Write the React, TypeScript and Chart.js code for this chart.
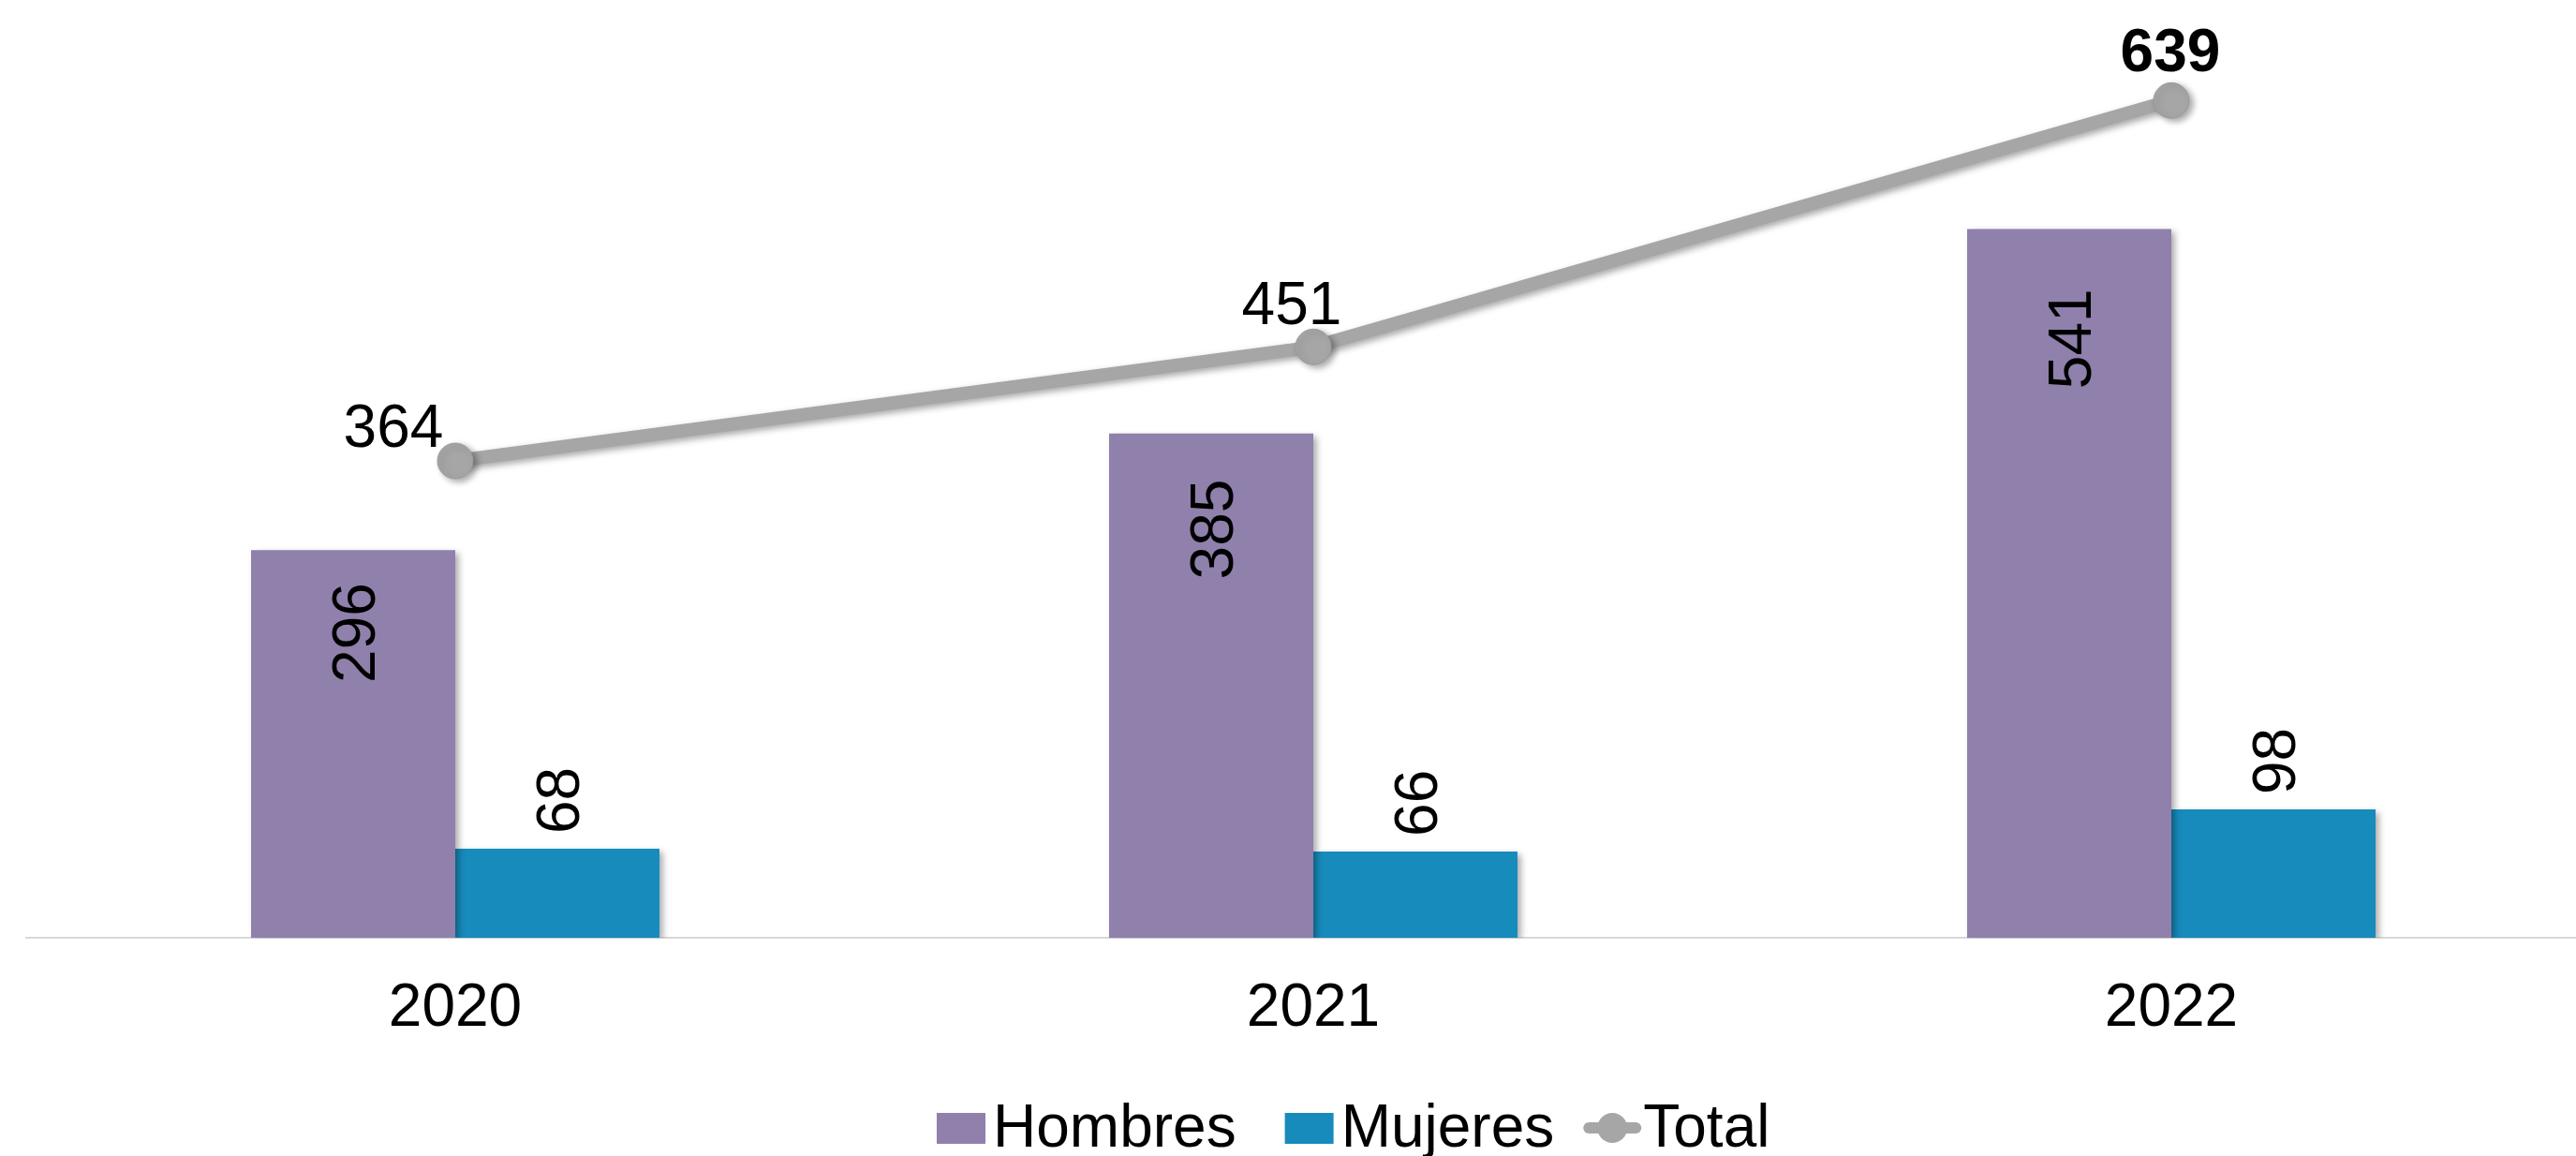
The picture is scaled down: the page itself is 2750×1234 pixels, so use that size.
import React, { useEffect, useRef } from "react";
import { Chart, registerables } from "chart.js";

Chart.register(...registerables);

// ---- data ----
const categories = ["2020", "2021", "2022"];
const seriesNames = ["Hombres", "Mujeres", "Total"];
const hombres = [296, 385, 541];
const mujeres = [68, 66, 98];
const total = [364, 451, 639];

// ---- styles ----
const COLOR_H = "#9080AC";
const COLOR_M = "#178BBC";
const COLOR_T = "#A6A6A6";
const FONT = "'Liberation Sans', Arial, Helvetica, sans-serif";
const FS = 64;
const DIGIT_MID = 0.358; // digit visual centre above baseline (em)
const hombresLabelInset = [35, 49, 64];
const mujeresLabelGap = 16;
const totalLabelShift = [
  [-66, -38],
  [-23, -47],
  [-1, -54],
];
const totalLabelBold = [false, false, true];

const shadowPlugin = {
  id: "shadowPlugin",
  beforeDatasetDraw(chart: any) {
    const ctx = chart.ctx;
    ctx.save();
    ctx.shadowColor = "rgba(0,0,0,0.35)";
    ctx.shadowBlur = 7;
    ctx.shadowOffsetX = 4;
    ctx.shadowOffsetY = 3;
  },
  afterDatasetDraw(chart: any) {
    chart.ctx.restore();
  },
};

const labelPlugin = {
  id: "labelPlugin",
  afterDatasetsDraw(chart: any) {
    const ctx = chart.ctx;
    const mH = chart.getDatasetMeta(0);
    const mM = chart.getDatasetMeta(1);
    const mT = chart.getDatasetMeta(2);
    const base = FS * DIGIT_MID;
    ctx.save();
    ctx.fillStyle = "#000";
    ctx.textBaseline = "alphabetic";
    ctx.font = `${FS}px ${FONT}`;
    mH.data.forEach((el: any, i: number) => {
      ctx.save();
      ctx.translate(el.x, el.y + hombresLabelInset[i]);
      ctx.rotate(-Math.PI / 2);
      ctx.textAlign = "right";
      ctx.fillText(String(hombres[i]), 0, base);
      ctx.restore();
    });
    mM.data.forEach((el: any, i: number) => {
      ctx.save();
      ctx.translate(el.x, el.y - mujeresLabelGap);
      ctx.rotate(-Math.PI / 2);
      ctx.textAlign = "left";
      ctx.fillText(String(mujeres[i]), 0, base);
      ctx.restore();
    });
    mT.data.forEach((el: any, i: number) => {
      ctx.font = `${totalLabelBold[i] ? "bold " : ""}${FS}px ${FONT}`;
      ctx.textAlign = "center";
      const [dx, dy] = totalLabelShift[i];
      ctx.fillText(String(total[i]), el.x + dx, el.y + dy + base);
    });
    ctx.restore();
  },
};

const legendPlugin = {
  id: "customLegend",
  afterDraw(chart: any) {
    const ctx = chart.ctx;
    const h = chart.height;
    const boxY = h - 46;
    const baseline = h - 10;
    const midY = boxY + 16;
    let x = 1000;
    ctx.save();
    ctx.font = `${FS}px ${FONT}`;
    ctx.textBaseline = "alphabetic";
    ctx.textAlign = "left";
    const ds = chart.data.datasets;
    const gapsAfter = [52, 31, 0];
    ds.forEach((d: any, i: number) => {
      if (d.type === "line") {
        ctx.strokeStyle = d.borderColor;
        ctx.lineWidth = 12;
        ctx.lineCap = "round";
        ctx.beginPath();
        ctx.moveTo(x + 6, midY);
        ctx.lineTo(x + 56, midY);
        ctx.stroke();
        ctx.fillStyle = d.backgroundColor;
        ctx.beginPath();
        ctx.arc(x + 31, midY, 16, 0, Math.PI * 2);
        ctx.fill();
        x += 64;
      } else {
        ctx.fillStyle = d.backgroundColor;
        ctx.fillRect(x, boxY, 52, 33);
        x += 60;
      }
      ctx.fillStyle = "#000";
      ctx.fillText(d.label, x, baseline);
      x += ctx.measureText(d.label).width + gapsAfter[i];
    });
    ctx.restore();
  },
};

export default function App() {
  const ref = useRef<HTMLCanvasElement | null>(null);
  useEffect(() => {
    if (!ref.current) return;
    const chart = new Chart(ref.current, {
      type: "bar",
      data: {
        labels: categories,
        datasets: [
          {
            type: "bar",
            label: seriesNames[0],
            data: hombres,
            backgroundColor: COLOR_H,
            categoryPercentage: 0.476,
            barPercentage: 1,
            order: 2,
          },
          {
            type: "bar",
            label: seriesNames[1],
            data: mujeres,
            backgroundColor: COLOR_M,
            categoryPercentage: 0.476,
            barPercentage: 1,
            order: 2,
          },
          {
            type: "line",
            label: seriesNames[2],
            data: total,
            borderColor: COLOR_T,
            backgroundColor: COLOR_T,
            borderWidth: 14,
            pointRadius: 19,
            pointBackgroundColor: COLOR_T,
            pointBorderColor: "#9C9C9C",
            pointBorderWidth: 1,
            tension: 0,
            order: 1,
          } as any,
        ],
      },
      options: {
        responsive: false,
        animation: false,
        devicePixelRatio: 1,
        layout: {
          autoPadding: false,
          padding: { top: 22, left: 28, right: 0, bottom: 80 },
        },
        plugins: {
          legend: { display: false },
          tooltip: { enabled: false },
        },
        scales: {
          x: {
            grid: { display: false, drawTicks: false },
            border: { display: true, color: "#D9D9D9", width: 2 },
            ticks: {
              color: "#000",
              font: { family: FONT, size: FS },
              padding: 38,
            },
          },
          y: {
            display: false,
            min: 0,
            max: 700,
          },
        },
      },
      plugins: [shadowPlugin, labelPlugin, legendPlugin],
    });
    return () => chart.destroy();
  }, []);
  return (
    <div
      style={{
        position: "absolute",
        left: 0,
        top: 0,
        width: 2750,
        height: 1234,
        overflow: "hidden",
        background: "#fff",
      }}
    >
      <canvas
        ref={ref}
        width={2776}
        height={1234}
        style={{ width: 2776, height: 1234, display: "block" }}
      />
    </div>
  );
}
